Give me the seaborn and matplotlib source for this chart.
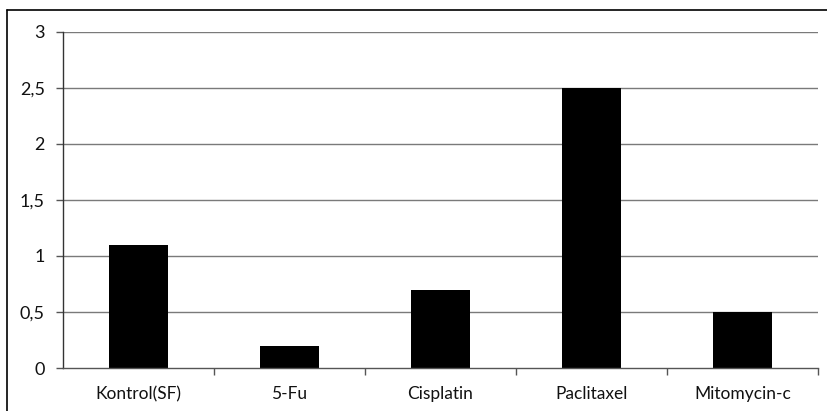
import matplotlib
matplotlib.use("Agg")
import matplotlib.pyplot as plt
import seaborn as sns
import pandas as pd
from matplotlib.lines import Line2D
from matplotlib.ticker import FixedLocator

categories = ["Kontrol(SF)", "5-Fu", "Cisplatin", "Paclitaxel", "Mitomycin-c"]
values = [1.1, 0.2, 0.7, 2.5, 0.5]
yticks = [0, 0.5, 1, 1.5, 2, 2.5, 3]
ytick_labels = ["0", "0,5", "1", "1,5", "2", "2,5", "3"]

sns.set_theme(style="white")
plt.rcParams["font.family"] = ["Lato", "DejaVu Sans"]

W, H = 827, 411
fig = plt.figure(figsize=(W / 100, H / 100), dpi=100)
ax = fig.add_axes([63 / W, 43 / H, (818 - 63) / W, (368 - 32) / H])

df = pd.DataFrame({"cat": categories, "val": values})
sns.barplot(data=df, x="cat", y="val", color="black", width=0.39,
            saturation=1, ax=ax, edgecolor="black", linewidth=0)

ax.set_xlim(-0.5, 4.5)
ax.set_ylim(0, 3)
ax.set_yticks(yticks)
ax.set_yticklabels(ytick_labels, fontsize=13, color="#111111")
ax.set_xlabel("")
ax.set_ylabel("")
ax.tick_params(axis="x", which="major", length=0, labelsize=12.5, pad=13, labelcolor="#111111")
ax.xaxis.set_minor_locator(FixedLocator([0.5, 1.5, 2.5, 3.5, 4.5]))
ax.tick_params(axis="x", which="minor", length=5, width=1, color="#555555", direction="out", bottom=True)
ax.tick_params(axis="y", length=5, width=1, color="#555555", direction="out", left=True, pad=8)

for y in yticks[1:]:
    ax.axhline(y, color="#7a7a7a", linewidth=1, zorder=0)

for s in ["top", "right"]:
    ax.spines[s].set_visible(False)
ax.spines["left"].set_color("#333333")
ax.spines["bottom"].set_color("#555555")
ax.spines["left"].set_linewidth(1)
ax.spines["bottom"].set_linewidth(1)

# outer chart border (top and left visible)
fig.add_artist(Line2D([7 / W, 1.0], [1 - 10 / H, 1 - 10 / H], transform=fig.transFigure, color="black", linewidth=1.2))
fig.add_artist(Line2D([7 / W, 7 / W], [0, 1 - 10 / H], transform=fig.transFigure, color="black", linewidth=1.2))

fig.savefig("out.png", dpi=100, facecolor="white")
